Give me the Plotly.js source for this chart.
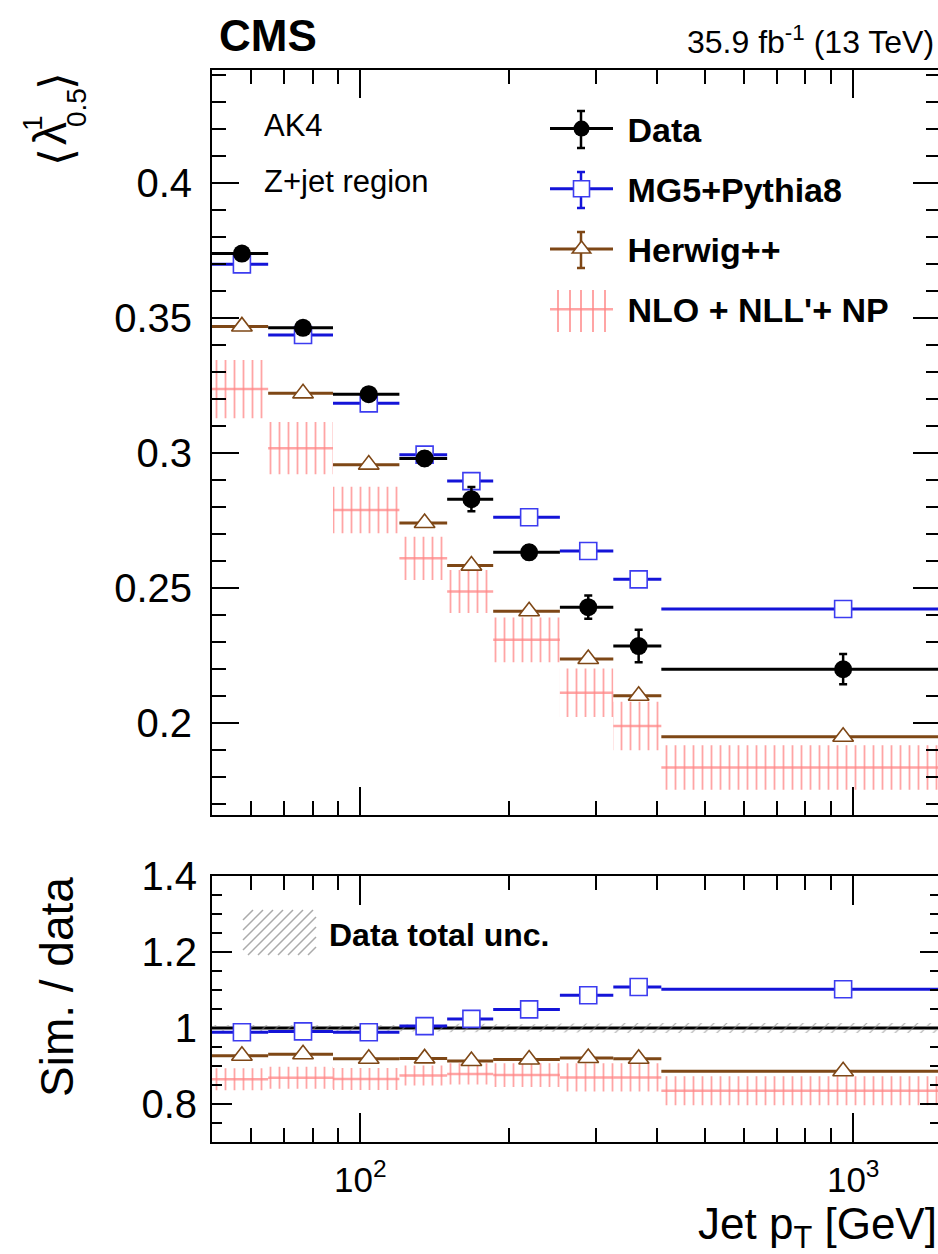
<!DOCTYPE html>
<html>
<head>
<meta charset="utf-8">
<script src="https://cdn.plot.ly/plotly-3.0.1.min.js"></script>
<style>
  html, body { margin: 0; padding: 0; overflow: hidden; background: #fff; }
  #plot { width: 945px; height: 1254px; }
</style>
</head>
<body>
<div id="plot"></div>
<script>
// Jet pT bins [GeV]
const binLo     = [50, 65, 88, 120, 150, 186, 254, 326, 408];
const binHi     = [65, 88, 120, 150, 186, 254, 326, 408, 1500];
const binCenter = [57.5, 76.5, 104, 135, 168, 220, 290, 367, 954];

// Mean lambda^1_0.5 per bin
const dataMean   = [0.374, 0.3465, 0.3219, 0.2981, 0.283, 0.2633, 0.243, 0.2286, 0.220];
const dataErr    = [0.0015, 0.0015, 0.002, 0.0025, 0.0045, 0.0025, 0.0043, 0.006, 0.0056];
const mg5Mean    = [0.370, 0.3438, 0.3185, 0.2995, 0.2897, 0.2763, 0.2638, 0.2533, 0.2423];
const herwigMean = [0.347, 0.3222, 0.2958, 0.2742, 0.2584, 0.2415, 0.2238, 0.2102, 0.195];
const nloMean    = [0.3238, 0.3019, 0.279, 0.2611, 0.2488, 0.2309, 0.2113, 0.199, 0.1836];
const nloErr     = [0.0108, 0.0097, 0.0086, 0.008, 0.008, 0.0083, 0.009, 0.009, 0.0082];

// Simulation / data
const mg5Ratio    = [0.989, 0.991, 0.989, 1.005, 1.024, 1.049, 1.086, 1.108, 1.102];
const herwigRatio = [0.927, 0.931, 0.919, 0.920, 0.913, 0.917, 0.921, 0.919, 0.886];
const nloRatio    = [0.865, 0.869, 0.866, 0.875, 0.879, 0.876, 0.870, 0.870, 0.835];
const nloRatioErr = [0.029, 0.029, 0.029, 0.026, 0.028, 0.031, 0.037, 0.037, 0.038];
const dataRelUnc  = [0.008, 0.008, 0.008, 0.009, 0.011, 0.010, 0.012, 0.013, 0.013];

// Axis ticks
const xMajor = [100, 1000];
const xMajorText = ['10<sup>2</sup>', '10<sup>3</sup>'];
const xMinor = [60, 70, 80, 90, 200, 300, 400, 500, 600, 700, 800, 900];
const yTopTicks = [0.2, 0.25, 0.3, 0.35, 0.4];
const yTopText = ['0.2', '0.25', '0.3', '0.35', '0.4'];
const yRatioTicks = [0.8, 1, 1.2, 1.4];
const yRatioText = ['0.8', '1', '1.2', '1.4'];

// Colours
const BLACK = '#000000';
const BLUE = '#1414d8';
const BLUE_MK = '#3c3cf0';
const BROWN = '#7e4716';
const PINK = 'rgba(255,135,135,0.75)';
const GREY = 'rgba(140,140,140,0.75)';
const FONT = 'Liberation Sans, Arial, Helvetica, sans-serif';
const NBSP = '\u00a0';

// Figure geometry (px)
const W = 945, H = 1254, L = 212, R = 5;
const PW = W - L - R;
const px = (x) => (x - L) / PW;
const py = (y) => 1 - y / H;

// horizontal bin extent as asymmetric x error bars
const xPlus = binHi.map((h, i) => h - binCenter[i]);
const xMinus = binLo.map((l, i) => binCenter[i] - l);
function binBars(color, thick) {
  return { type: 'data', symmetric: false, array: xPlus, arrayminus: xMinus,
           width: 0, thickness: thick, color: color };
}
// one rectangle per bin, separated by gaps, for hatched bands
function bandPath(center, half) {
  const x = [], y = [];
  for (let i = 0; i < binLo.length; i++) {
    const lo = center[i] - half[i], hi = center[i] + half[i];
    x.push(binLo[i], binHi[i], binHi[i], binLo[i], binLo[i], null);
    y.push(lo, lo, hi, hi, lo, null);
  }
  return { x, y };
}
const nloPattern = { shape: '|', fgcolor: PINK, bgcolor: 'rgba(0,0,0,0)', size: 9, solidity: 0.2, fillmode: 'replace' };
const uncPattern = { shape: '/', fgcolor: GREY, bgcolor: 'rgba(0,0,0,0)', size: 9, solidity: 0.12, fillmode: 'replace' };

const traces = [];
function addPanel(xa, ya, nloC, nloH, herw, mg5, withData) {
  const band = bandPath(nloC, nloH);
  traces.push({ x: band.x, y: band.y, xaxis: xa, yaxis: ya, mode: 'lines', fill: 'toself',
    fillcolor: PINK, fillpattern: nloPattern, line: { width: 0, color: PINK },
    showlegend: false, hoverinfo: 'skip' });
  traces.push({ x: binCenter, y: nloC, xaxis: xa, yaxis: ya, mode: 'markers',
    marker: { size: 2, color: 'rgba(0,0,0,0)' }, error_x: binBars(PINK, 2.5), showlegend: false });
  traces.push({ x: binCenter, y: herw, xaxis: xa, yaxis: ya, mode: 'markers',
    marker: { symbol: 'triangle-up', size: 18, color: 'white', line: { color: BROWN, width: 1.6 } },
    error_x: binBars(BROWN, 3), showlegend: false });
  traces.push({ x: binCenter, y: mg5, xaxis: xa, yaxis: ya, mode: 'markers',
    marker: { symbol: 'square', size: 17, color: 'white', line: { color: BLUE_MK, width: 1.6 } },
    error_x: binBars(BLUE, 3), showlegend: false });
  if (withData) {
    traces.push({ x: binCenter, y: dataMean, xaxis: xa, yaxis: ya, mode: 'markers',
      marker: { symbol: 'circle', size: 18, color: BLACK },
      error_x: binBars(BLACK, 3),
      error_y: { type: 'data', array: dataErr, width: 4, thickness: 2.5, color: BLACK },
      showlegend: false });
  }
}

// ratio panel: data uncertainty band first, below everything
const unc = bandPath(binCenter.map(() => 1), dataRelUnc);
traces.push({ x: unc.x, y: unc.y, xaxis: 'x2', yaxis: 'y2', mode: 'lines', fill: 'toself',
  fillcolor: GREY, fillpattern: uncPattern, line: { width: 0, color: GREY },
  showlegend: false, hoverinfo: 'skip' });

addPanel('x', 'y', nloMean, nloErr, herwigMean, mg5Mean, true);
addPanel('x2', 'y2', nloRatio, nloRatioErr, herwigRatio, mg5Ratio, false);

// legend entries
traces.push({ x: [null], y: [null], mode: 'lines+markers', name: NBSP + '<b>Data</b>', legendgroup: 'a',
  line: { color: BLACK, width: 3 }, marker: { symbol: 'circle', size: 16, color: BLACK } });
traces.push({ x: [null], y: [null], mode: 'lines+markers', name: NBSP + '<b>MG5+Pythia8</b>', legendgroup: 'b',
  line: { color: BLUE, width: 3 }, marker: { symbol: 'square', size: 16, color: 'white', line: { color: BLUE_MK, width: 1.6 } } });
traces.push({ x: [null], y: [null], mode: 'lines+markers', name: NBSP + '<b>Herwig++</b>', legendgroup: 'c',
  line: { color: BROWN, width: 3 }, marker: { symbol: 'triangle-up', size: 16, color: 'white', line: { color: BROWN, width: 1.6 } } });
traces.push({ x: [null], y: [null], mode: 'lines', name: NBSP + "<b>NLO + NLL'+ NP</b>", legendgroup: 'd',
  line: { color: PINK, width: 2.5 } });

function xAxis(anchor, labels, majorLen, minorLen) {
  return {
    type: 'log', range: [Math.log10(50), Math.log10(1500)], domain: [0, 1], anchor: anchor,
    showticklabels: labels, tickvals: xMajor, ticktext: xMajorText,
    tickfont: { size: 35, family: FONT }, ticklabelstandoff: 6,
    ticks: 'inside', ticklen: majorLen, tickwidth: 2, tickcolor: BLACK,
    minor: { tickmode: 'array', tickvals: xMinor, ticks: 'inside', ticklen: minorLen, tickwidth: 2, tickcolor: BLACK },
    showline: true, linewidth: 2, linecolor: BLACK, mirror: 'allticks',
    showgrid: false, zeroline: false, fixedrange: true
  };
}
function yAxis(anchor, dom, range, vals, text, majorLen, minorStep, minorLen, standoff) {
  return {
    domain: dom, range: range, anchor: anchor, tickvals: vals, ticktext: text,
    tickfont: { size: 40, family: FONT }, ticklabelstandoff: standoff,
    ticks: 'inside', ticklen: majorLen, tickwidth: 2, tickcolor: BLACK,
    minor: { tickmode: 'linear', tick0: 0, dtick: minorStep, ticks: 'inside', ticklen: minorLen, tickwidth: 2, tickcolor: BLACK },
    showline: true, linewidth: 2, linecolor: BLACK, mirror: 'allticks',
    showgrid: false, zeroline: false, fixedrange: true
  };
}

function note(text, x, y, size, opts) {
  return Object.assign({ text: text, xref: 'paper', yref: 'paper', x: px(x), y: py(y),
    showarrow: false, xanchor: 'left', yanchor: 'middle', borderpad: 0,
    font: { size: size, family: FONT, color: BLACK } }, opts || {});
}
const rot = { textangle: -90, xanchor: 'center', yanchor: 'middle' };

// legend key decorations (pixel positions of the key column)
function seg(x0, y0, x1, y1) {
  return 'M' + px(x0).toFixed(5) + ',' + py(y0).toFixed(5) + 'L' + px(x1).toFixed(5) + ',' + py(y1).toFixed(5);
}
function keyErrorBar(xc, yTop, yBot, color) {
  const cap = 4;
  return { type: 'path', xref: 'paper', yref: 'paper',
    path: seg(xc, yTop, xc, yBot) + seg(xc - cap, yTop, xc + cap, yTop) + seg(xc - cap, yBot, xc + cap, yBot),
    line: { color: color, width: 2.5 } };
}
function keyVerticalHatch(xs, yTop, yBot, color) {
  return { type: 'path', xref: 'paper', yref: 'paper',
    path: xs.map((x) => seg(x, yTop, x, yBot)).join(''), line: { color: color, width: 2 } };
}
function hatchKey(x0, y0, x1, y1, step) {
  const segs = [];
  const h = y1 - y0;
  for (let c = -h; c < x1 - x0; c += step) {
    let ya = y1, xa = x0 + c;
    let yb = y0, xb = x0 + c + h;
    if (xa < x0) { ya = y1 - (x0 - xa); xa = x0; }
    if (xb > x1) { yb = y0 + (xb - x1); xb = x1; }
    if (xb <= xa) continue;
    segs.push(seg(xa, ya, xb, yb));
  }
  return { type: 'path', xref: 'paper', yref: 'paper', path: segs.join(''),
           line: { color: 'rgba(150,150,150,0.8)', width: 1.5 } };
}

const layout = {
  width: W, height: H,
  margin: { l: L, r: R, t: 0, b: 0 },
  paper_bgcolor: 'white', plot_bgcolor: 'white',
  font: { family: FONT, color: BLACK },
  hovermode: false,
  xaxis: xAxis('y', false, 28, 14),
  yaxis: yAxis('x', [py(815), py(70)], [0.166, 0.442], yTopTicks, yTopText, 27, 0.01, 14, 10),
  xaxis2: xAxis('y2', true, 29, 14),
  yaxis2: yAxis('x2', [py(1142), py(876)], [0.7, 1.4], yRatioTicks, yRatioText, 20, 0.05, 10, 5),
  legend: { x: px(545), y: py(100), xanchor: 'left', yanchor: 'top', bgcolor: 'rgba(0,0,0,0)',
    borderwidth: 0, font: { size: 34, family: FONT }, itemwidth: 63, tracegroupgap: 13,
    traceorder: 'grouped' },
  shapes: [
    { type: 'line', xref: 'x2 domain', yref: 'y2', x0: 0, x1: 1, y0: 1, y1: 1,
      line: { color: BLACK, width: 3 }, layer: 'below' },
    hatchKey(243, 910, 316, 955, 10),
    keyErrorBar(581, 111, 148, BLACK),
    keyErrorBar(581, 172, 208, BLUE),
    keyErrorBar(581, 232, 268, BROWN),
    keyVerticalHatch([558, 570, 581, 593, 605], 290, 332, PINK)
  ],
  annotations: [
    note('<b>CMS</b>', 218, 35, 44),
    note('35.9 fb<sup>-1</sup> (13 TeV)', 935, 40, 32, { xanchor: 'right' }),
    note('AK4', 263, 126, 31),
    note('Z+jet region', 263, 181, 31),
    note('\u27E8', 56, 157, 46, rot),
    note('\u03BB', 50, 134, 46, rot),
    note('1', 32, 123, 28, rot),
    note('0.5', 76, 108, 28, rot),
    note('\u27E9', 56, 81, 46, rot),
    note('Sim. / data', 57, 987, 46, rot),
    note('<b>Data total unc.</b>', 328, 935, 32),
    note('Jet p<sub>T</sub> [GeV]', 938, 1227, 44, { xanchor: 'right' })
  ]
};

Plotly.newPlot('plot', traces, layout, { staticPlot: true, displayModeBar: false });
</script>
</body>
</html>
